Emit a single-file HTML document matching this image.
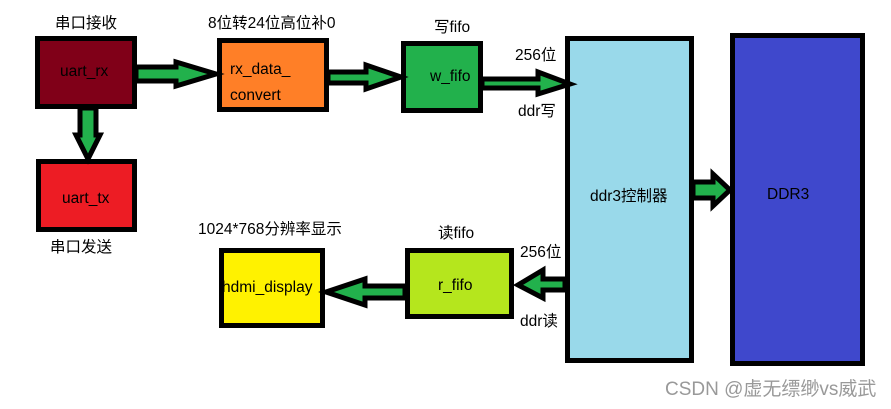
<!DOCTYPE html>
<html><head><meta charset="utf-8"><style>
body{margin:0;background:#fff;}
svg{display:block}
text{font-family:"Liberation Sans","Noto Sans CJK SC",sans-serif;font-size:15.5px;fill:#000}
</style></head><body>
<svg width="891" height="409" viewBox="0 0 891 409" xmlns="http://www.w3.org/2000/svg">
<g stroke="#000" stroke-width="5" stroke-linejoin="miter">
<rect x="37.5" y="38.5" width="97" height="68" fill="#800018"/>
<rect x="38.5" y="161.5" width="96" height="68" fill="#ed1c24"/>
<rect x="219.5" y="40.5" width="107" height="69" fill="#ff7f27"/>
<rect x="403.5" y="43.5" width="77" height="67" fill="#22b14c"/>
<rect x="567.5" y="38.5" width="124" height="322" fill="#99d9ea"/>
<rect x="732.5" y="35.5" width="130" height="328" fill="#3f48cc"/>
<rect x="407.5" y="250.5" width="104" height="66" fill="#b5e61d"/>
<rect x="221.5" y="250.5" width="101" height="75" fill="#fff200"/>
<g fill="#22b14c" stroke-width="5">
<path d="M136 67 H176 V62 L216 74 L176 86 V81 H136 Z"/>
<path d="M328 72 H366 V65 L401 77 L366 89 V83 H328 Z"/>
<path d="M482 79 H538 V72 L570 84 L538 94 V88 H482 Z"/>
<path d="M693 182 H713 V174 L730 190 L713 206 V198 H693 Z"/>
<path d="M80 108 H96 V135 H100 L88 159 L76 135 H80 Z"/>
<path d="M565 279 H543 V270 L518 285 L543 298 V290 H565 Z"/>
<path d="M405 286 H365 V279 L326 292 L365 305 V298 H405 Z"/>
</g>
</g>
<text x="55" y="28">串口接收</text>
<text x="208" y="28">8位转24位高位补0</text>
<text x="434" y="32">写fifo</text>
<text x="515" y="60">256位</text>
<text x="518" y="116">ddr写</text>
<text x="60" y="76">uart_rx</text>
<text x="62" y="203">uart_tx</text>
<text x="50" y="252">串口发送</text>
<text x="230" y="74">rx_data_</text>
<text x="230" y="100">convert</text>
<text x="430" y="81">w_fifo</text>
<text x="590" y="201">ddr3控制器</text>
<text x="767" y="199">DDR3</text>
<text x="198" y="234">1024*768分辨率显示</text>
<text x="438" y="238">读fifo</text>
<text x="520" y="257">256位</text>
<text x="520" y="326">ddr读</text>
<text x="438" y="290">r_fifo</text>
<text x="222" y="292">hdmi_display</text>
<text x="665" y="395" style="fill:#999;font-size:19px">CSDN @虚无缥缈vs威武</text>
</svg>
</body></html>
